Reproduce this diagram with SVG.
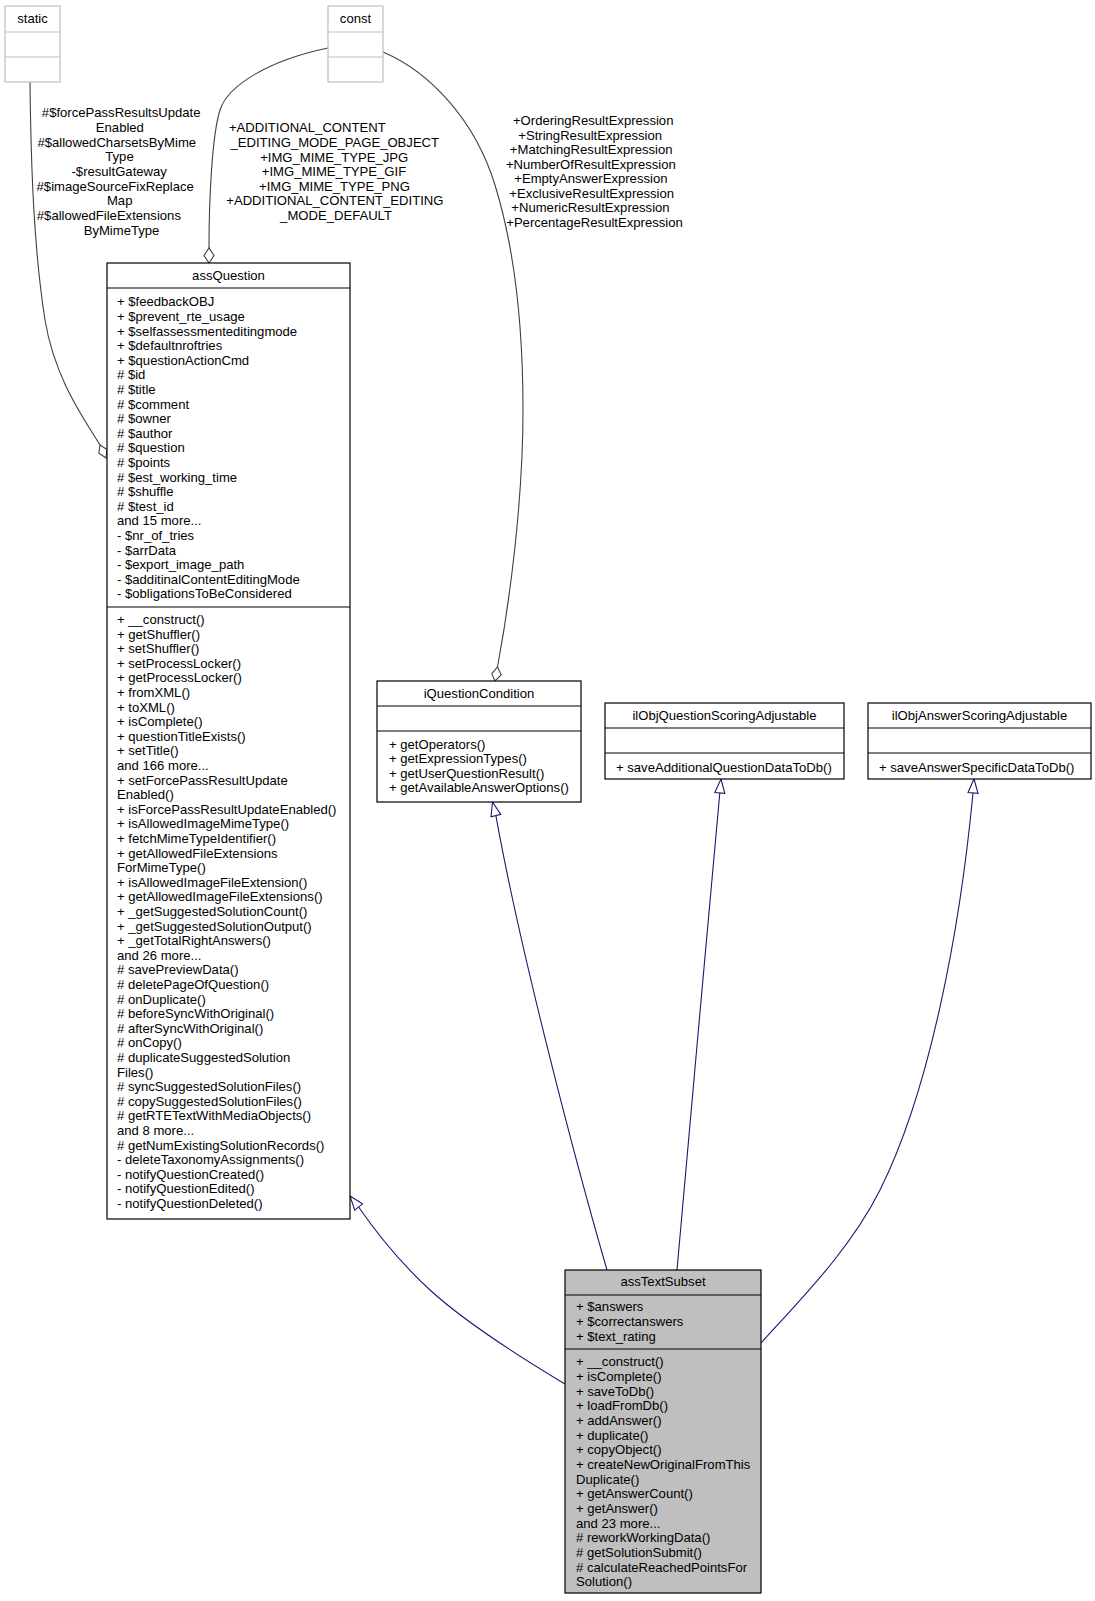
<svg xmlns="http://www.w3.org/2000/svg" width="1095" height="1601" viewBox="0 0 1095 1601">
<style>
.t{font-family:"Liberation Sans",Arial,Helvetica,sans-serif;font-size:13.1px;fill:#000}
.c{text-anchor:middle}
.box{fill:#fff;stroke:#000;stroke-width:1.2}
.gbox{fill:#fff;stroke:#bfbfbf;stroke-width:1.2}
.sel{fill:#bfbfbf;stroke:#000;stroke-width:1.2}
.ln{stroke:#000;stroke-width:1.2}
.gln{stroke:#bfbfbf;stroke-width:1.2}
.agg{fill:none;stroke:#404040;stroke-width:1.1}
.inh{fill:none;stroke:#191970;stroke-width:1.1}
.tri{fill:#fff;stroke:#191970;stroke-width:1.1}
.dia{fill:#fff;stroke:#404040;stroke-width:1.1}
</style>
<rect x="0" y="0" width="1095" height="1601" fill="#fff"/>
<g id="connectors">
  <path class="agg" d="M30,82 C31,170 34,250 45,320 C55,380 85,420 100,445"/>
  <polygon class="dia" points="100,445 107,449.5 106,458 98.9,453.3"/>
  <text class="t c">
    <tspan x="123" y="117.4">#$forcePassResultsUpdate</tspan>
    <tspan x="121.7" y="132">Enabled</tspan>
    <tspan x="118.6" y="146.7">#$allowedCharsetsByMime</tspan>
    <tspan x="121.3" y="161.3">Type</tspan>
    <tspan x="121" y="176">-$resultGateway</tspan>
    <tspan x="117" y="190.7">#$imageSourceFixReplace</tspan>
    <tspan x="121.5" y="205.3">Map</tspan>
    <tspan x="110.7" y="220">#$allowedFileExtensions</tspan>
    <tspan x="121.5" y="234.6">ByMimeType</tspan>
  </text>
  <path class="agg" d="M328,48 C270,60 228,85 220,110 C212,135 209,200 209,248"/>
  <polygon class="dia" points="209,248 214,255.5 209,263 204,255.5"/>
  <text class="t c">
    <tspan x="309" y="132.4">+ADDITIONAL_CONTENT</tspan>
    <tspan x="336.5" y="147">_EDITING_MODE_PAGE_OBJECT</tspan>
    <tspan x="336" y="161.5">+IMG_MIME_TYPE_JPG</tspan>
    <tspan x="335.8" y="176.1">+IMG_MIME_TYPE_GIF</tspan>
    <tspan x="336.3" y="190.6">+IMG_MIME_TYPE_PNG</tspan>
    <tspan x="336.7" y="205.2">+ADDITIONAL_CONTENT_EDITING</tspan>
    <tspan x="336" y="219.7">_MODE_DEFAULT</tspan>
  </text>
  <path class="agg" d="M383,52 C430,72 475,120 495,185 C515,250 523,330 523,410 C523,500 510,600 497.5,667"/>
  <polygon class="dia" points="497.5,667 501.2,674.8 495,681 491.8,673.6"/>
  <text class="t c">
    <tspan x="595" y="125.4">+OrderingResultExpression</tspan>
    <tspan x="592" y="139.9">+StringResultExpression</tspan>
    <tspan x="593" y="154.4">+MatchingResultExpression</tspan>
    <tspan x="592.7" y="168.9">+NumberOfResultExpression</tspan>
    <tspan x="592.7" y="183.4">+EmptyAnswerExpression</tspan>
    <tspan x="593.5" y="197.9">+ExclusiveResultExpression</tspan>
    <tspan x="592.3" y="212.4">+NumericResultExpression</tspan>
    <tspan x="594.5" y="226.9">+PercentageResultExpression</tspan>
  </text>
  <path class="inh" d="M565,1384 C520,1357 465,1322 430,1290 C405,1267 380,1238 358.6,1207"/>
  <polygon class="tri" points="350,1196 362.5,1203.9 354.7,1210.1"/>
  <path class="inh" d="M607,1270 C575,1160 520,950 495.9,815.6"/>
  <polygon class="tri" points="492.5,802 500.8,814.4 491,816.8"/>
  <path class="inh" d="M677,1270 C684,1190 710,900 719.8,793"/>
  <polygon class="tri" points="721,779 724.8,793.4 714.8,792.5"/>
  <path class="inh" d="M761,1343 C800,1300 850,1250 880,1190 C930,1090 960,930 973,793"/>
  <polygon class="tri" points="974,779 978,793.4 968,792.6"/>
</g>
<g id="node-static">
  <rect class="gbox" x="5" y="6" width="55" height="76"/>
  <line class="gln" x1="5" y1="32" x2="60" y2="32"/>
  <line class="gln" x1="5" y1="57" x2="60" y2="57"/>
  <text class="t c" x="32.5" y="23">static</text>
</g>
<g id="node-const">
  <rect class="gbox" x="328" y="6" width="55" height="76"/>
  <line class="gln" x1="328" y1="32" x2="383" y2="32"/>
  <line class="gln" x1="328" y1="57" x2="383" y2="57"/>
  <text class="t c" x="355.5" y="23">const</text>
</g>
<g id="node-assQuestion">
  <rect class="box" x="107" y="263" width="243" height="956"/>
  <line class="ln" x1="107" y1="288" x2="350" y2="288"/>
  <line class="ln" x1="107" y1="607" x2="350" y2="607"/>
  <text class="t c" x="228.5" y="279.5">assQuestion</text>
  <text class="t" y="306.4">
    <tspan x="117" dy="0">+ $feedbackOBJ</tspan>
    <tspan x="117" dy="14.6">+ $prevent_rte_usage</tspan>
    <tspan x="117" dy="14.6">+ $selfassessmenteditingmode</tspan>
    <tspan x="117" dy="14.6">+ $defaultnroftries</tspan>
    <tspan x="117" dy="14.6">+ $questionActionCmd</tspan>
    <tspan x="117" dy="14.6"># $id</tspan>
    <tspan x="117" dy="14.6"># $title</tspan>
    <tspan x="117" dy="14.6"># $comment</tspan>
    <tspan x="117" dy="14.6"># $owner</tspan>
    <tspan x="117" dy="14.6"># $author</tspan>
    <tspan x="117" dy="14.6"># $question</tspan>
    <tspan x="117" dy="14.6"># $points</tspan>
    <tspan x="117" dy="14.6"># $est_working_time</tspan>
    <tspan x="117" dy="14.6"># $shuffle</tspan>
    <tspan x="117" dy="14.6"># $test_id</tspan>
    <tspan x="117" dy="14.6">and 15 more...</tspan>
    <tspan x="117" dy="14.6">- $nr_of_tries</tspan>
    <tspan x="117" dy="14.6">- $arrData</tspan>
    <tspan x="117" dy="14.6">- $export_image_path</tspan>
    <tspan x="117" dy="14.6">- $additinalContentEditingMode</tspan>
    <tspan x="117" dy="14.6">- $obligationsToBeConsidered</tspan>
  </text>
  <text class="t" y="624">
    <tspan x="117" dy="0">+ __construct()</tspan>
    <tspan x="117" dy="14.6">+ getShuffler()</tspan>
    <tspan x="117" dy="14.6">+ setShuffler()</tspan>
    <tspan x="117" dy="14.6">+ setProcessLocker()</tspan>
    <tspan x="117" dy="14.6">+ getProcessLocker()</tspan>
    <tspan x="117" dy="14.6">+ fromXML()</tspan>
    <tspan x="117" dy="14.6">+ toXML()</tspan>
    <tspan x="117" dy="14.6">+ isComplete()</tspan>
    <tspan x="117" dy="14.6">+ questionTitleExists()</tspan>
    <tspan x="117" dy="14.6">+ setTitle()</tspan>
    <tspan x="117" dy="14.6">and 166 more...</tspan>
    <tspan x="117" dy="14.6">+ setForcePassResultUpdate</tspan>
    <tspan x="117" dy="14.6">Enabled()</tspan>
    <tspan x="117" dy="14.6">+ isForcePassResultUpdateEnabled()</tspan>
    <tspan x="117" dy="14.6">+ isAllowedImageMimeType()</tspan>
    <tspan x="117" dy="14.6">+ fetchMimeTypeIdentifier()</tspan>
    <tspan x="117" dy="14.6">+ getAllowedFileExtensions</tspan>
    <tspan x="117" dy="14.6">ForMimeType()</tspan>
    <tspan x="117" dy="14.6">+ isAllowedImageFileExtension()</tspan>
    <tspan x="117" dy="14.6">+ getAllowedImageFileExtensions()</tspan>
    <tspan x="117" dy="14.6">+ _getSuggestedSolutionCount()</tspan>
    <tspan x="117" dy="14.6">+ _getSuggestedSolutionOutput()</tspan>
    <tspan x="117" dy="14.6">+ _getTotalRightAnswers()</tspan>
    <tspan x="117" dy="14.6">and 26 more...</tspan>
    <tspan x="117" dy="14.6"># savePreviewData()</tspan>
    <tspan x="117" dy="14.6"># deletePageOfQuestion()</tspan>
    <tspan x="117" dy="14.6"># onDuplicate()</tspan>
    <tspan x="117" dy="14.6"># beforeSyncWithOriginal()</tspan>
    <tspan x="117" dy="14.6"># afterSyncWithOriginal()</tspan>
    <tspan x="117" dy="14.6"># onCopy()</tspan>
    <tspan x="117" dy="14.6"># duplicateSuggestedSolution</tspan>
    <tspan x="117" dy="14.6">Files()</tspan>
    <tspan x="117" dy="14.6"># syncSuggestedSolutionFiles()</tspan>
    <tspan x="117" dy="14.6"># copySuggestedSolutionFiles()</tspan>
    <tspan x="117" dy="14.6"># getRTETextWithMediaObjects()</tspan>
    <tspan x="117" dy="14.6">and 8 more...</tspan>
    <tspan x="117" dy="14.6"># getNumExistingSolutionRecords()</tspan>
    <tspan x="117" dy="14.6">- deleteTaxonomyAssignments()</tspan>
    <tspan x="117" dy="14.6">- notifyQuestionCreated()</tspan>
    <tspan x="117" dy="14.6">- notifyQuestionEdited()</tspan>
    <tspan x="117" dy="14.6">- notifyQuestionDeleted()</tspan>
  </text>
</g>
<g id="node-iQuestionCondition">
  <rect class="box" x="377" y="681" width="204" height="121"/>
  <line class="ln" x1="377" y1="706" x2="581" y2="706"/>
  <line class="ln" x1="377" y1="731" x2="581" y2="731"/>
  <text class="t c" x="479" y="697.5">iQuestionCondition</text>
  <text class="t" y="748.7">
    <tspan x="389" dy="0">+ getOperators()</tspan>
    <tspan x="389" dy="14.45">+ getExpressionTypes()</tspan>
    <tspan x="389" dy="14.45">+ getUserQuestionResult()</tspan>
    <tspan x="389" dy="14.45">+ getAvailableAnswerOptions()</tspan>
  </text>
</g>
<g id="node-ilObjQuestionScoringAdjustable">
  <rect class="box" x="605" y="703" width="239" height="76"/>
  <line class="ln" x1="605" y1="728" x2="844" y2="728"/>
  <line class="ln" x1="605" y1="753" x2="844" y2="753"/>
  <text class="t c" x="724.5" y="719.5">ilObjQuestionScoringAdjustable</text>
  <text class="t" x="616" y="772.4">+ saveAdditionalQuestionDataToDb()</text>
</g>
<g id="node-ilObjAnswerScoringAdjustable">
  <rect class="box" x="868" y="703" width="223" height="76"/>
  <line class="ln" x1="868" y1="728" x2="1091" y2="728"/>
  <line class="ln" x1="868" y1="753" x2="1091" y2="753"/>
  <text class="t c" x="979.5" y="719.5">ilObjAnswerScoringAdjustable</text>
  <text class="t" x="879" y="772.4">+ saveAnswerSpecificDataToDb()</text>
</g>
<g id="node-assTextSubset">
  <rect class="sel" x="565" y="1270" width="196" height="323"/>
  <line class="ln" x1="565" y1="1295" x2="761" y2="1295"/>
  <line class="ln" x1="565" y1="1349" x2="761" y2="1349"/>
  <text class="t c" x="663" y="1286">assTextSubset</text>
  <text class="t" y="1311.4">
    <tspan x="576" dy="0">+ $answers</tspan>
    <tspan x="576" dy="14.65">+ $correctanswers</tspan>
    <tspan x="576" dy="14.65">+ $text_rating</tspan>
  </text>
  <text class="t" y="1366.4">
    <tspan x="576" dy="0">+ __construct()</tspan>
    <tspan x="576" dy="14.65">+ isComplete()</tspan>
    <tspan x="576" dy="14.65">+ saveToDb()</tspan>
    <tspan x="576" dy="14.65">+ loadFromDb()</tspan>
    <tspan x="576" dy="14.65">+ addAnswer()</tspan>
    <tspan x="576" dy="14.65">+ duplicate()</tspan>
    <tspan x="576" dy="14.65">+ copyObject()</tspan>
    <tspan x="576" dy="14.65">+ createNewOriginalFromThis</tspan>
    <tspan x="576" dy="14.65">Duplicate()</tspan>
    <tspan x="576" dy="14.65">+ getAnswerCount()</tspan>
    <tspan x="576" dy="14.65">+ getAnswer()</tspan>
    <tspan x="576" dy="14.65">and 23 more...</tspan>
    <tspan x="576" dy="14.65"># reworkWorkingData()</tspan>
    <tspan x="576" dy="14.65"># getSolutionSubmit()</tspan>
    <tspan x="576" dy="14.65"># calculateReachedPointsFor</tspan>
    <tspan x="576" dy="14.65">Solution()</tspan>
  </text>
</g>
</svg>
